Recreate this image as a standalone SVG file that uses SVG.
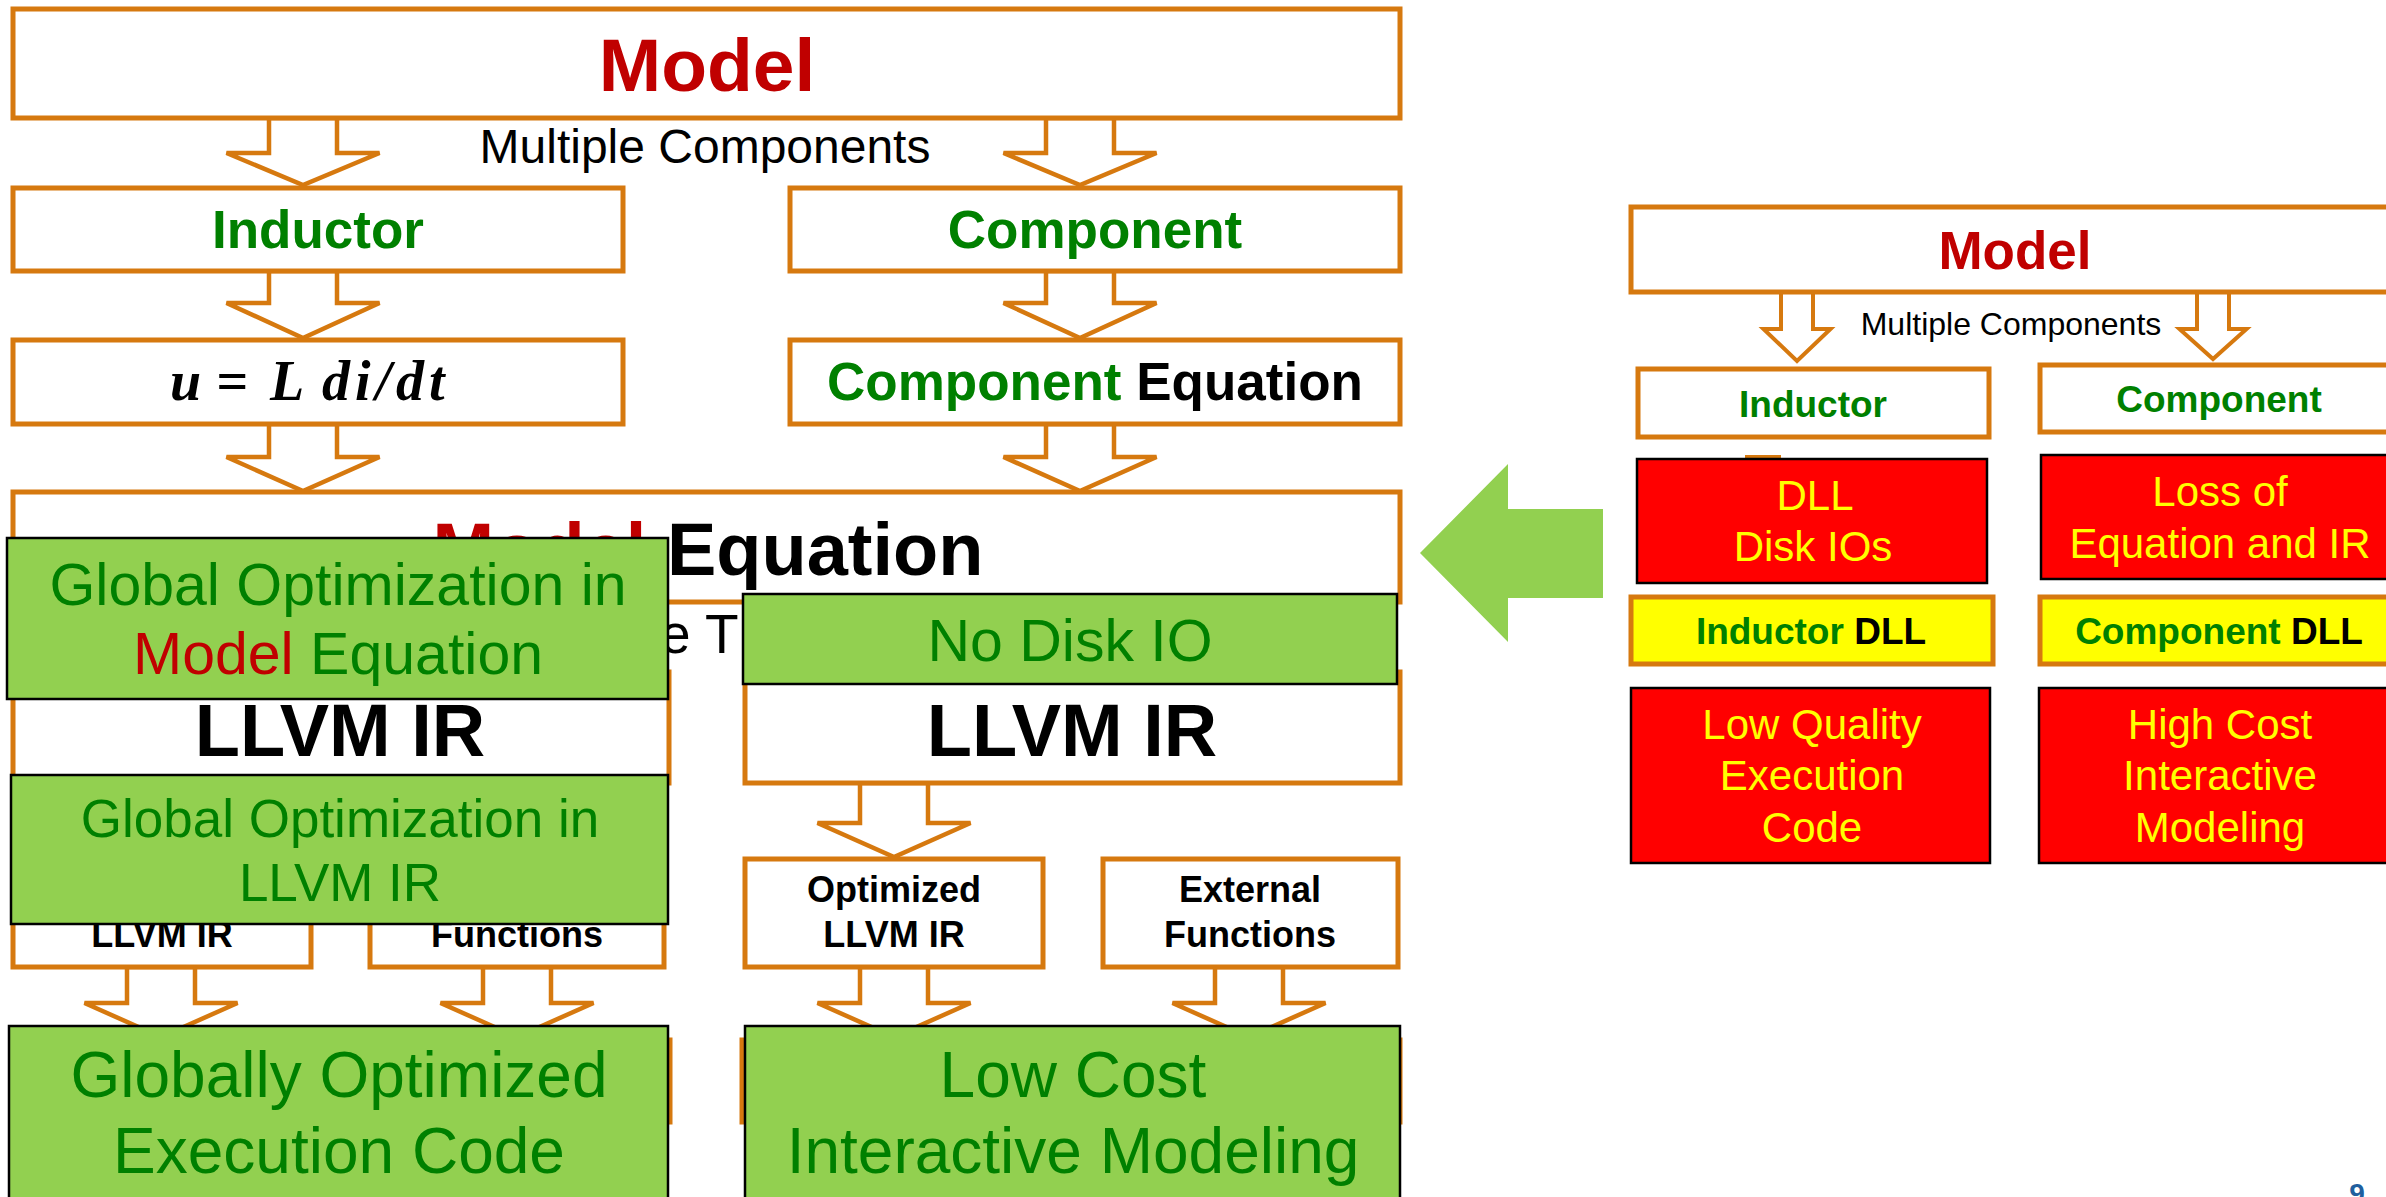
<svg xmlns="http://www.w3.org/2000/svg" width="2386" height="1197" viewBox="0 0 2386 1197">
<style>
.bx{fill:#fff;stroke:#D6790F;stroke-width:5}
.ar{fill:#fff;stroke:#D6790F;stroke-width:4.5;stroke-linejoin:miter}
.ar2{fill:#fff;stroke:#D6790F;stroke-width:4}
.gb{fill:#92D050;stroke:#000;stroke-width:2.5}
.rb{fill:#FF0000;stroke:#000;stroke-width:2.5}
.yb{fill:#FFFF00;stroke:#D6790F;stroke-width:5}
text{font-family:"Liberation Sans",Arial,sans-serif;text-anchor:middle}
.b{font-weight:bold}
.red{fill:#C00000}
.grn{fill:#008000}
.blk{fill:#000}
.yel{fill:#FFFF00}
.math{font-family:"Liberation Serif","Times New Roman",serif;font-weight:bold;font-style:italic;text-anchor:start}
</style>
<rect width="2386" height="1197" fill="#fff"/>
<g id="connectors">
<polygon class="ar" points="269,118 337,118 337,153 379.5,153 303,185 226.5,153 269,153"/>
<polygon class="ar" points="1046,118 1114,118 1114,153 1156.5,153 1080,185 1003.5,153 1046,153"/>
<polygon class="ar" points="269,271 337,271 337,303 379.5,303 303,338 226.5,303 269,303"/>
<polygon class="ar" points="1046,271 1114,271 1114,303 1156.5,303 1080,338 1003.5,303 1046,303"/>
<polygon class="ar" points="269,424 337,424 337,457 379.5,457 303,491 226.5,457 269,457"/>
<polygon class="ar" points="1046,424 1114,424 1114,457 1156.5,457 1080,491 1003.5,457 1046,457"/>
<polygon class="ar" points="860,783 928,783 928,823 970.5,823 894,857 817.5,823 860,823"/>
<polygon class="ar" points="127,967 195,967 195,1003 237.5,1003 161,1037 84.5,1003 127,1003"/>
<polygon class="ar" points="483,967 551,967 551,1003 593.5,1003 517,1037 440.5,1003 483,1003"/>
<polygon class="ar" points="860,967 928,967 928,1003 970.5,1003 894,1037 817.5,1003 860,1003"/>
<polygon class="ar" points="1215,967 1283,967 1283,1003 1325.5,1003 1249,1037 1172.5,1003 1215,1003"/>
<polygon class="ar2" points="1781,292 1813,292 1813,329 1830.5,329 1797,361 1763.5,329 1781,329"/>
<polygon class="ar2" points="2197,292 2229,292 2229,329 2246.5,329 2213,359 2179.5,329 2197,329"/>
<polygon class="ar2" points="1747,457 1779,457 1779,480 1796.5,480 1763,500 1729.5,480 1747,480"/>
<polygon fill="#92D050" points="1420,553 1508,464 1508,509 1603,509 1603,598 1508,598 1508,642"/>
</g>
<g id="model">
<rect class="bx" x="13" y="9" width="1387" height="109"/>
<text class="b red" x="707" y="91" font-size="75">Model</text>
</g>
<g id="label-multiple">
<text x="705" y="163" font-size="48">Multiple Components</text>
</g>
<g id="inductor">
<rect class="bx" x="13" y="188" width="610" height="83"/>
<text class="b grn" x="318" y="248" font-size="53">Inductor</text>
</g>
<g id="component">
<rect class="bx" x="790" y="188" width="610" height="83"/>
<text class="b grn" x="1095" y="248" font-size="53">Component</text>
</g>
<g id="inductor-eq">
<rect class="bx" x="13" y="340" width="610" height="84"/>
<text class="math" x="170" y="400" font-size="56">u<tspan x="216">=</tspan><tspan x="270">L</tspan><tspan x="322" letter-spacing="5">di/dt</tspan></text>
</g>
<g id="component-eq">
<rect class="bx" x="790" y="340" width="610" height="84"/>
<text class="b" x="1095" y="400" font-size="53"><tspan class="grn">Component</tspan> <tspan class="blk">Equation</tspan></text>
</g>
<g id="model-eq">
<rect class="bx" x="13" y="492" width="1387" height="110"/>
<text class="b" x="708" y="575" font-size="74"><tspan class="red">Model</tspan> <tspan class="blk">Equation</tspan></text>
</g>
<g id="label-translation">
<text x="660" y="653" font-size="55" style="text-anchor:start">e T</text>
</g>
<g id="llvm-left">
<rect class="bx" x="13" y="672" width="656" height="111"/>
<text class="b" x="340" y="756" font-size="74">LLVM IR</text>
</g>
<g id="llvm-right">
<rect class="bx" x="745" y="672" width="655" height="111"/>
<text class="b" x="1072" y="756" font-size="74">LLVM IR</text>
</g>
<g id="small-left-1">
<rect class="bx" x="13" y="859" width="298" height="108"/>
<text class="b" x="162" y="947" font-size="36">LLVM IR</text>
</g>
<g id="small-left-2">
<rect class="bx" x="370" y="859" width="294" height="108"/>
<text class="b" x="517" y="947" font-size="36">Functions</text>
</g>
<g id="optimized-llvm">
<rect class="bx" x="745" y="859" width="298" height="108"/>
<text class="b" x="894" y="902" font-size="36">Optimized</text>
<text class="b" x="894" y="947" font-size="36">LLVM IR</text>
</g>
<g id="external-functions">
<rect class="bx" x="1103" y="859" width="295" height="108"/>
<text class="b" x="1250" y="902" font-size="36">External</text>
<text class="b" x="1250" y="947" font-size="36">Functions</text>
</g>
<g id="back-left">
<rect class="bx" x="13" y="1040" width="657" height="82"/>
</g>
<g id="back-right">
<rect class="bx" x="742" y="1040" width="658" height="82"/>
</g>
<g id="global-opt-model">
<rect class="gb" x="7" y="538" width="661" height="161"/>
<text class="grn" x="338" y="605" font-size="59">Global Optimization in</text>
<text x="338" y="674" font-size="59"><tspan class="red">Model</tspan> <tspan class="grn">Equation</tspan></text>
</g>
<g id="no-disk-io">
<rect class="gb" x="743" y="594" width="654" height="90"/>
<text class="grn" x="1070" y="661" font-size="59">No Disk IO</text>
</g>
<g id="global-opt-llvm">
<rect class="gb" x="11" y="775" width="657" height="149"/>
<text class="grn" x="340" y="837" font-size="53">Global Optimization in</text>
<text class="grn" x="340" y="901" font-size="53">LLVM IR</text>
</g>
<g id="globally-optimized">
<rect class="gb" x="9" y="1026" width="659" height="190"/>
<text class="grn" x="339" y="1097" font-size="64">Globally Optimized</text>
<text class="grn" x="339" y="1173" font-size="64">Execution Code</text>
</g>
<g id="low-cost">
<rect class="gb" x="745" y="1026" width="655" height="190"/>
<text class="grn" x="1073" y="1097" font-size="64">Low Cost</text>
<text class="grn" x="1073" y="1173" font-size="64">Interactive Modeling</text>
</g>
<g id="r-model">
<rect class="bx" x="1631" y="207" width="800" height="85"/>
<text class="b red" x="2015" y="269" font-size="53">Model</text>
</g>
<g id="r-label-multiple">
<text x="2011" y="335" font-size="32">Multiple Components</text>
</g>
<g id="r-inductor">
<rect class="bx" x="1638" y="369" width="351" height="68"/>
<text class="b grn" x="1813" y="417" font-size="37">Inductor</text>
</g>
<g id="r-component">
<rect class="bx" x="2040" y="365" width="400" height="67"/>
<text class="b grn" x="2219" y="412" font-size="37">Component</text>
</g>
<g id="r-dll-disk">
<rect class="rb" x="1637" y="459" width="350" height="124"/>
<text class="yel" x="1815" y="510" font-size="42">DLL</text>
<text class="yel" x="1813" y="561" font-size="42">Disk IOs</text>
</g>
<g id="r-loss">
<rect class="rb" x="2041" y="455" width="400" height="124"/>
<text class="yel" x="2220" y="506" font-size="42">Loss of</text>
<text class="yel" x="2220" y="558" font-size="42">Equation and IR</text>
</g>
<g id="r-inductor-dll">
<rect class="yb" x="1631" y="597" width="362" height="67"/>
<text class="b" x="1811" y="644" font-size="37"><tspan class="grn">Inductor</tspan> <tspan class="blk">DLL</tspan></text>
</g>
<g id="r-component-dll">
<rect class="yb" x="2040" y="597" width="400" height="67"/>
<text class="b" x="2219" y="644" font-size="37"><tspan class="grn">Component</tspan> <tspan class="blk">DLL</tspan></text>
</g>
<g id="r-low-quality">
<rect class="rb" x="1631" y="688" width="359" height="175"/>
<text class="yel" x="1812" y="739" font-size="42">Low Quality</text>
<text class="yel" x="1812" y="790" font-size="42">Execution</text>
<text class="yel" x="1812" y="842" font-size="42">Code</text>
</g>
<g id="r-high-cost">
<rect class="rb" x="2039" y="688" width="400" height="175"/>
<text class="yel" x="2220" y="739" font-size="42">High Cost</text>
<text class="yel" x="2220" y="790" font-size="42">Interactive</text>
<text class="yel" x="2220" y="842" font-size="42">Modeling</text>
</g>
<g id="page-number">
<text class="b" x="2357" y="1203" font-size="28" fill="#1F5F9E">9</text>
</g>
</svg>
